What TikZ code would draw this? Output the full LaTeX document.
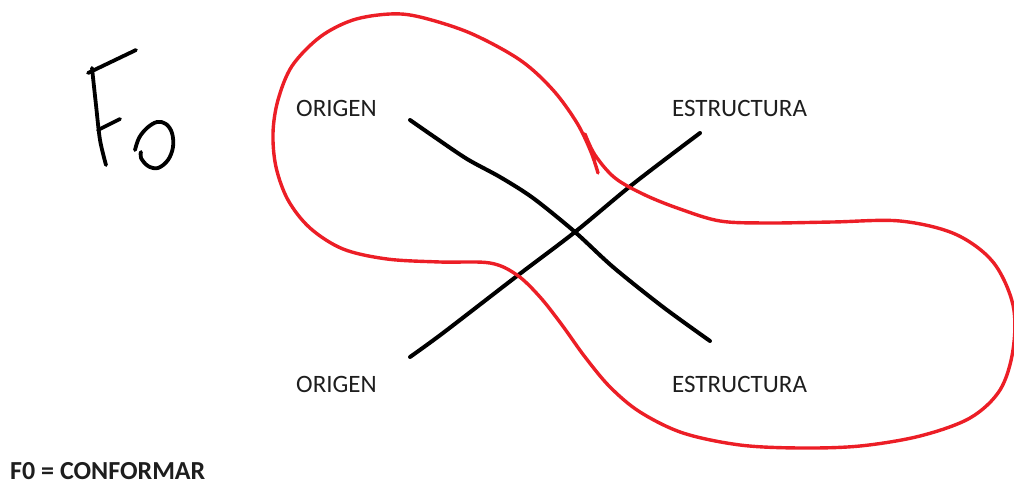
\documentclass[tikz,border=0pt]{standalone}
\usepackage{fontspec}
\setmainfont{Carlito}
\definecolor{penred}{RGB}{236,30,38}
\definecolor{txt}{RGB}{30,30,30}
\tikzset{
  lbl/.style={anchor=base west, inner sep=0pt, text=txt, font=\fontsize{25}{28}\selectfont},
  pen/.style={line width=4pt, line cap=round, line join=round, black},
  redpen/.style={line width=3.4pt, line cap=round, line join=round, penred},
}
\begin{document}
\begin{tikzpicture}[x=1pt,y=-1pt]
\useasboundingbox (0,0) rectangle (1014,484);
\begin{scope}
\clip (0,0) rectangle (1014,484);
% labels
\node[lbl] (o1) at (296,117) {ORIGEN};
\node[lbl] (e1) at (672,117) {ESTRUCTURA};
\node[lbl] (o2) at (296,392) {ORIGEN};
\node[lbl] (e2) at (672,392) {ESTRUCTURA};
\node[anchor=base west, inner sep=0pt, text=txt, font=\bfseries\fontsize{26}{28}\selectfont] (def) at (10,479) {F0 = CONFORMAR};
% line endpoints
\coordinate (a1) at (410,120);
\coordinate (a2) at (710,341);
\coordinate (b1) at (410,357);
\coordinate (b2) at (700,133);
% black crossing lines
\draw[pen] plot[smooth, tension=0.5] coordinates {(a1) (433,136) (467,159) (500,177) (533,198) (575,232) (613,267) (663,307) (a2)};
\draw[pen] plot[smooth, tension=0.5] coordinates {(b1) (443,333) (517,276) (575,232) (633,184) (b2)};
% handwritten F0
\draw[pen, line width=3.8pt] (88,73) -- (136,50);
\draw[pen, line width=3.8pt] plot[smooth] coordinates {(92,68) (96,105) (100,140) (106,165)};
\draw[pen, line width=3.8pt] (98,130) -- (120,119);
\draw[pen, line width=3.8pt] plot[smooth, tension=0.6] coordinates {(135,150) (139,138) (147,128) (157,122) (166,124) (172,133) (173,147) (168,160) (158,168) (148,166) (141,158) (141,152)};
% red loop
\coordinate (r0) at (598,173);
\draw[redpen] plot[smooth, tension=0.55] coordinates {(r0) (591,152) (577,123) (553,90) (520,60) (470,33) (420,17) (390,14) (353,20) (320,37) (292,66) (278,100) (273,133) (276,167) (288,200) (310,228) (343,249) (387,259) (440,262) (490,263) (517,275) (540,297) (562,325) (585,357) (610,387) (640,412) (683,433) (740,445) (800,448) (860,446) (920,436) (970,418) (1000,390) (1013,350) (1013,305) (993,262) (955,234) (900,221) (833,222) (767,223) (720,221) (680,209) (645,195) (615,178) (595,155) (585,134)};
\end{scope}
\end{tikzpicture}
\end{document}
